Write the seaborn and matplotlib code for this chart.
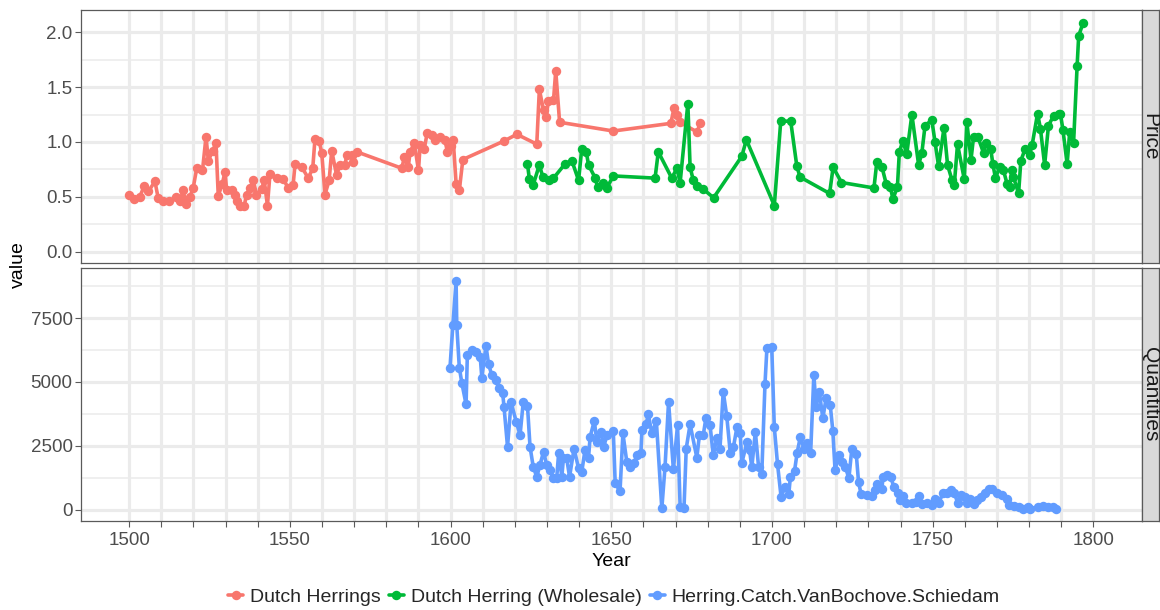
import numpy as np
import pandas as pd
import matplotlib
matplotlib.use("Agg")
import matplotlib.pyplot as plt
from matplotlib.lines import Line2D
import seaborn as sns

# ---------------- data ----------------
herring_years = [1500, 1501.5, 1503.3, 1504.7, 1506, 1508, 1509, 1510.6, 1512.4, 1514.7,
                 1515.8, 1516.8, 1517.6, 1518.9, 1519.9, 1521, 1522.8, 1523.9, 1524.6, 1526,
                 1527, 1527.7, 1529, 1529.8, 1530.3, 1531.9, 1533, 1533.4, 1534.5, 1535.8,
                 1536.5, 1537.6, 1538.6, 1539.6, 1541.2, 1542, 1543, 1543.8, 1545.9, 1547.9,
                 1549.5, 1551, 1551.6, 1553.7, 1555.7, 1557.1, 1557.8, 1559.1, 1559.9, 1560.9,
                 1562.2, 1563, 1564.5, 1565.6, 1567.1, 1567.7, 1569.2, 1569.7, 1570.8, 1584.8,
                 1585.6, 1586.8, 1587.4, 1588.7, 1590, 1590.5, 1591.8, 1592.7, 1594.1, 1595.1,
                 1596.7, 1598.2, 1599, 1600.1, 1600.8, 1601.7, 1602.7, 1603.8, 1616.7, 1620.6,
                 1626.8, 1627.6, 1628.9, 1629.7, 1630.4, 1632, 1632.7, 1633.9, 1650.6, 1668.5,
                 1669.5, 1670.3, 1671.4, 1676.7, 1677.6]
herring_price = [0.52, 0.48, 0.50, 0.60, 0.55, 0.64, 0.49, 0.46, 0.46, 0.50,
                 0.46, 0.56, 0.43, 0.50, 0.58, 0.76, 0.74, 1.05, 0.83, 0.92,
                 0.99, 0.51, 0.62, 0.73, 0.56, 0.56, 0.52, 0.46, 0.42, 0.42,
                 0.52, 0.58, 0.65, 0.52, 0.57, 0.65, 0.42, 0.71, 0.67, 0.66,
                 0.58, 0.61, 0.80, 0.77, 0.67, 0.76, 1.03, 1.01, 0.90, 0.52,
                 0.65, 0.92, 0.70, 0.79, 0.79, 0.88, 0.88, 0.82, 0.91, 0.76,
                 0.86, 0.77, 0.91, 0.99, 0.74, 0.97, 0.94, 1.08, 1.06, 1.02,
                 1.05, 1.02, 0.91, 0.96, 1.02, 0.62, 0.56, 0.84, 1.01, 1.07,
                 0.98, 1.48, 1.29, 1.23, 1.37, 1.38, 1.65, 1.18, 1.10, 1.17,
                 1.31, 1.25, 1.18, 1.09, 1.17]

wholesale_years = [1623.9, 1624.5, 1625.7, 1627.6, 1628.7, 1630.7, 1632, 1635.6, 1637.7, 1639.8,
                   1640.8, 1642.2, 1642.9, 1645, 1645.7, 1647.5, 1648.6, 1650.6, 1663.6, 1664.6,
                   1668.8, 1670.4, 1671.4, 1673.8, 1674.5, 1675.5, 1676.6, 1678.6, 1681.8, 1690.6,
                   1692, 1700.7, 1702.7, 1705.8, 1707.7, 1708.7, 1717.9, 1719, 1721.6, 1731.7,
                   1732.6, 1734.2, 1735.5, 1736.8, 1737.6, 1739, 1739.6, 1740.7, 1741.9, 1743.5,
                   1745.6, 1746.6, 1747.6, 1749.7, 1750.7, 1751.8, 1753.5, 1754.6, 1756, 1756.7,
                   1757.7, 1759.8, 1760.6, 1761.9, 1762.7, 1764, 1765.8, 1766.7, 1768, 1768.7,
                   1769.5, 1770.8, 1772, 1773.1, 1773.9, 1774.6, 1775.1, 1776.7, 1777.4, 1778.8,
                   1780.1, 1780.9, 1782.6, 1783.5, 1784.8, 1786, 1787.6, 1789.2, 1789.7, 1790.5,
                   1791.8, 1792.6, 1793.8, 1794.9, 1795.4, 1796.8]
wholesale_price = [0.80, 0.66, 0.61, 0.79, 0.68, 0.65, 0.67, 0.80, 0.83, 0.65,
                   0.94, 0.91, 0.79, 0.67, 0.59, 0.63, 0.58, 0.69, 0.67, 0.91,
                   0.67, 0.76, 0.63, 1.35, 0.77, 0.65, 0.60, 0.57, 0.49, 0.87,
                   1.02, 0.42, 1.19, 1.19, 0.78, 0.68, 0.53, 0.77, 0.63, 0.58,
                   0.82, 0.77, 0.62, 0.59, 0.48, 0.59, 0.91, 1.01, 0.89, 1.25,
                   0.79, 0.90, 1.15, 1.20, 1.00, 0.78, 1.13, 0.79, 0.65, 0.61,
                   0.98, 0.66, 1.18, 0.84, 1.05, 1.05, 0.90, 0.99, 0.94, 0.80,
                   0.67, 0.77, 0.74, 0.62, 0.59, 0.74, 0.68, 0.53, 0.83, 0.94,
                   0.88, 0.97, 1.26, 1.12, 0.79, 1.15, 1.24, 1.26, 1.26, 1.11,
                   0.80, 1.09, 0.99, 1.69, 1.97, 2.09]

catch_years = [1599.8, 1600.7, 1601.7, 1601.9, 1602.7, 1603.5, 1604.8, 1605.2, 1606.6, 1607.9,
               1609.2, 1609.7, 1611, 1611.8, 1612.8, 1614.2, 1614.9, 1616.2, 1616.6, 1617.7,
               1618.8, 1620.4, 1621.6, 1622.6, 1623.9, 1624.7, 1625.7, 1626.8, 1627.8, 1628.9,
               1629.9, 1631, 1631.8, 1633, 1633.6, 1634.6, 1635.1, 1636.1, 1637, 1638.4,
               1639.8, 1640.8, 1641.8, 1642.9, 1643.4, 1644.7, 1645.5, 1646.8, 1647.6, 1648.7,
               1650.6, 1651.2, 1652.7, 1653.6, 1654.8, 1655.8, 1657.1, 1657.9, 1659.2, 1659.5,
               1660.8, 1661.5, 1662.6, 1664, 1665.7, 1666.7, 1667.8, 1669.3, 1670.6, 1671.4,
               1672.6, 1673.3, 1674.5, 1676.6, 1677.4, 1678.6, 1679.4, 1680.7, 1681.7, 1682.8,
               1683.8, 1684.8, 1685.9, 1687, 1688, 1689.1, 1690.1, 1690.6, 1692.2, 1693,
               1693.7, 1694.8, 1695.8, 1696.8, 1697.8, 1698.4, 1699.9, 1700.7, 1701.7, 1702.8,
               1704.1, 1705.2, 1705.7, 1707, 1707.8, 1708.8, 1709.9, 1710.9, 1712, 1713,
               1713.7, 1714.7, 1715.8, 1716.8, 1718.1, 1718.9, 1719.6, 1720.7, 1721.8, 1722.8,
               1723.9, 1724.8, 1726.2, 1726.9, 1727.7, 1729.5, 1731.1, 1732.1, 1732.6, 1734.2,
               1734.5, 1735.8, 1737, 1737.8, 1739.1, 1739.7, 1740.7, 1741.7, 1743.5, 1744.8,
               1745.6, 1746.6, 1748.2, 1749.7, 1750.7, 1751.8, 1753.2, 1754.4, 1755.7, 1756.7,
               1757.8, 1758.7, 1759.9, 1760.7, 1761.7, 1762.8, 1763.8, 1765.1, 1766.4, 1767.5,
               1768.5, 1770.1, 1771.6, 1773, 1773.7, 1775.3, 1776.9, 1778.2, 1779.5, 1780.3,
               1782.6, 1784.2, 1785.7, 1787.3, 1788.4]
catch_qty = [5560, 7230, 8950, 7230, 5560, 4950, 4120, 6060, 6250, 6160,
             5990, 5170, 6410, 5690, 5270, 5080, 4750, 4550, 4030, 2460,
             4200, 3440, 2920, 4220, 4070, 2460, 1670, 1280, 1740, 2260,
             1740, 1540, 1240, 1240, 2200, 1280, 2030, 2000, 1280, 2390,
             1610, 1480, 2330, 2030, 2850, 3470, 2650, 3050, 2460, 2920,
             3070, 1020, 720, 2980, 1870, 1670, 1810, 2130, 2200, 3110,
             3340, 3730, 2980, 3470, 40, 1670, 4220, 1570, 3300, 100,
             60, 2390, 3340, 2030, 2920, 2920, 3570, 3310, 2130, 2790,
             2390, 4620, 3660, 2220, 2460, 3240, 2980, 1830, 2650, 2330,
             1650, 3050, 1670, 1410, 4920, 6320, 6360, 3220, 1780, 500,
             890, 600, 1280, 1520, 2220, 2850, 2390, 2590, 2220, 5270,
             4030, 4620, 3570, 4360, 4090, 3090, 1540, 2130, 1870, 1670,
             1220, 2360, 2170, 1080, 600, 560, 520, 760, 990, 820,
             1280, 1350, 1280, 890, 650, 370, 520, 260, 240, 300,
             530, 210, 240, 170, 430, 260, 630, 630, 760, 630,
             260, 560, 500, 240, 430, 210, 390, 500, 630, 820,
             790, 630, 560, 430, 170, 130, 100, 10, 80, 20,
             100, 130, 100, 80, 30]

series_names = ["Dutch Herrings", "Dutch Herring (Wholesale)", "Herring.Catch.VanBochove.Schiedam"]
series_colors = ["#F8766D", "#00BA38", "#619CFF"]
facet_names = ["Price", "Quantities"]

x_breaks = list(range(1500, 1801, 10))
x_labels = [str(v) if v % 50 == 0 else "" for v in x_breaks]
price_breaks = [0.0, 0.5, 1.0, 1.5, 2.0]
qty_breaks = [0, 2500, 5000, 7500]

# ---------------- frames ----------------
price_df = pd.concat([
    pd.DataFrame({"Year": herring_years, "value": herring_price, "series": series_names[0]}),
    pd.DataFrame({"Year": wholesale_years, "value": wholesale_price, "series": series_names[1]}),
])
qty_df = pd.DataFrame({"Year": catch_years, "value": catch_qty, "series": series_names[2]})
palette = dict(zip(series_names, series_colors))

# ---------------- style ----------------
sns.set_theme(style="white")
plt.rcParams["font.family"] = ["Liberation Sans", "DejaVu Sans"]

W, H = 1160, 610
fig = plt.figure(figsize=(W / 100, H / 100), dpi=100)

def frac_box(x0, y0, x1, y1):
    return [x0 / W, 1 - y1 / H, (x1 - x0) / W, (y1 - y0) / H]

left, right = 81, 1141.7
ax_p = fig.add_axes(frac_box(left, 10, right, 263))
ax_q = fig.add_axes(frac_box(left, 268.3, right, 521))

grid_c = "#EBEBEB"
border_c = "#5A5A5A"
tick_c = "#4D4D4D"

def style_axis(ax, ylim, ybreaks, minor, show_x):
    ax.set_facecolor("white")
    ax.set_xlim(1485, 1815)
    ax.set_ylim(*ylim)
    ax.set_xticks(x_breaks)
    ax.set_yticks(ybreaks)
    ax.set_yticks(minor, minor=True)
    ax.grid(True, which="major", color=grid_c, linewidth=2.3, zorder=0)
    ax.grid(True, which="minor", axis="y", color=grid_c, linewidth=1.1, zorder=0)
    ax.set_axisbelow(True)
    for s in ax.spines.values():
        s.set_color(border_c)
        s.set_linewidth(0.9)
    ax.tick_params(axis="y", which="major", length=4, width=0.8, color=border_c,
                   labelsize=13.5, labelcolor=tick_c, pad=2, left=True)
    ax.tick_params(axis="y", which="minor", length=0)
    if show_x:
        ax.set_xticklabels(x_labels)
        ax.tick_params(axis="x", length=4, width=0.8, color=border_c, labelsize=13.5,
                       labelcolor=tick_c, pad=4, bottom=True)
    else:
        ax.tick_params(axis="x", length=0, labelbottom=False)
    ax.set_xlabel("")
    ax.set_ylabel("")

line_kw = dict(marker="o", markersize=6.8, markeredgewidth=0, linewidth=2.6,
               estimator=None, legend=False)
sns.lineplot(data=price_df, x="Year", y="value", hue="series", palette=palette,
             hue_order=series_names[:2], ax=ax_p, **line_kw)
sns.lineplot(data=qty_df, x="Year", y="value", hue="series", palette=palette,
             ax=ax_q, **line_kw)

style_axis(ax_p, (-0.105, 2.205), price_breaks, [0.25, 0.75, 1.25, 1.75], False)
ax_p.set_yticklabels([f"{v:.1f}" for v in price_breaks])
style_axis(ax_q, (-450, 9450), qty_breaks, [1250, 3750, 6250, 8750], True)
ax_q.set_yticklabels([str(v) for v in qty_breaks])

# strips on the right
for (y0, y1), name in zip([(10, 263), (268.3, 521)], facet_names):
    sax = fig.add_axes(frac_box(right, y0, 1158.5, y1))
    sax.set_facecolor("#D9D9D9")
    sax.set_xticks([]); sax.set_yticks([])
    for s in sax.spines.values():
        s.set_color(border_c); s.set_linewidth(0.9)
    sax.text(0.5, 0.5, name, rotation=270, ha="center", va="center",
             fontsize=15, color="#1A1A1A", transform=sax.transAxes)

# axis titles
fig.text(18 / W, 1 - 265 / H, "value", rotation=90, ha="center", va="center",
         fontsize=14, color="black")
fig.text((left + right) / 2 / W, 1 - 561 / H, "Year", ha="center", va="center",
         fontsize=14, color="black")

# legend
handles = [Line2D([0], [0], color=c, marker="o", markersize=6.8, markeredgewidth=0,
                  linewidth=2.6) for c in series_colors]
fig.legend(handles, series_names, loc="center", bbox_to_anchor=(614 / W, 1 - 597 / H),
           ncol=3, frameon=False, fontsize=14, handlelength=0.75, handletextpad=0.35,
           columnspacing=0.45, borderpad=0)

fig.savefig("out.png", dpi=100)
